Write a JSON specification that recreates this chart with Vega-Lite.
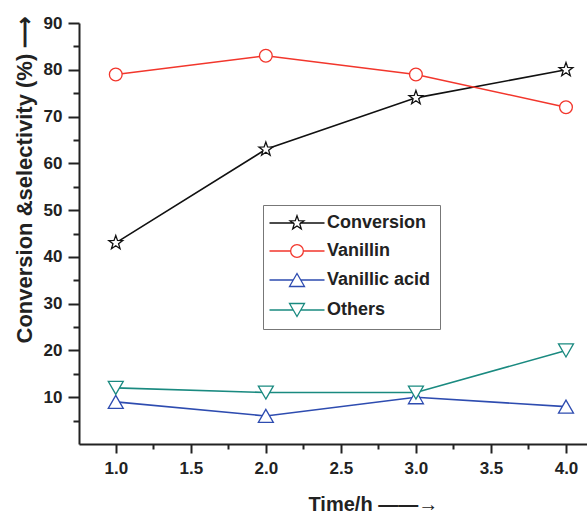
{
  "$schema": "https://vega.github.io/schema/vega-lite/v6.json",
  "width": 508,
  "height": 421,
  "autosize": "none",
  "padding": {"left": 79, "top": 23, "right": 0, "bottom": 69},
  "background": "white",
  "config": {
    "view": {"stroke": null},
    "font": "Liberation Sans",
    "axis": {
      "domainColor": "#222222",
      "domainWidth": 2,
      "tickColor": "#222222",
      "tickWidth": 2,
      "grid": false,
      "labelFont": "Liberation Sans",
      "labelFontWeight": "bold",
      "labelFontSize": 17,
      "labelColor": "#222222",
      "titleFont": "Liberation Sans",
      "titleFontWeight": "bold",
      "titleFontSize": 20,
      "titleColor": "#222222"
    }
  },
  "data": {
    "values": [
      {"time": 1, "value": 43, "series": "Conversion"},
      {"time": 2, "value": 63, "series": "Conversion"},
      {"time": 3, "value": 74, "series": "Conversion"},
      {"time": 4, "value": 80, "series": "Conversion"},
      {"time": 1, "value": 79, "series": "Vanillin"},
      {"time": 2, "value": 83, "series": "Vanillin"},
      {"time": 3, "value": 79, "series": "Vanillin"},
      {"time": 4, "value": 72, "series": "Vanillin"},
      {"time": 1, "value": 9, "series": "Vanillic acid"},
      {"time": 2, "value": 6, "series": "Vanillic acid"},
      {"time": 3, "value": 10, "series": "Vanillic acid"},
      {"time": 4, "value": 8, "series": "Vanillic acid"},
      {"time": 1, "value": 12, "series": "Others"},
      {"time": 2, "value": 11, "series": "Others"},
      {"time": 3, "value": 11, "series": "Others"},
      {"time": 4, "value": 20, "series": "Others"}
    ]
  },
  "encoding": {
    "x": {
      "field": "time",
      "type": "quantitative",
      "scale": {"domain": [0.755, 4.14], "nice": false, "zero": false},
      "axis": {
        "values": [1, 1.25, 1.5, 1.75, 2, 2.25, 2.5, 2.75, 3, 3.25, 3.5, 3.75, 4],
        "labelExpr": "datum.value % 0.5 === 0 ? format(datum.value, '.1f') : ''",
        "tickSize": {"condition": {"test": "datum.value % 0.5 === 0", "value": 9}, "value": 5},
        "labelPadding": 7,
        "title": "Time/h  ——→",
        "titleX": 229,
        "titleY": 66,
        "titleAlign": "left",
        "titleBaseline": "alphabetic",
        "labelFlush": false,
        "labelOverlap": false
      }
    },
    "y": {
      "field": "value",
      "type": "quantitative",
      "scale": {"domain": [0, 90], "nice": false},
      "axis": {
        "values": [5, 10, 15, 20, 25, 30, 35, 40, 45, 50, 55, 60, 65, 70, 75, 80, 85, 90],
        "labelExpr": "datum.value % 10 === 0 ? datum.value : ''",
        "tickSize": {"condition": {"test": "datum.value % 10 === 0", "value": 11}, "value": 6},
        "labelPadding": 6,
        "title": "Conversion &selectivity (%) ⟶",
        "titleFontSize": 22,
        "titleX": -48,
        "titleY": 320,
        "titleAngle": 270,
        "titleAlign": "left",
        "titleBaseline": "alphabetic",
        "labelFlush": false,
        "labelOverlap": false
      }
    },
    "stroke": {
      "field": "series",
      "type": "nominal",
      "scale": {
        "domain": ["Conversion", "Vanillin", "Vanillic acid", "Others"],
        "range": ["#111111", "#f2362c", "#2e4cb0", "#1a8a80"]
      },
      "legend": null
    }
  },
  "resolve": {"scale": {"shape": "independent", "stroke": "independent"}},
  "layer": [
    {
      "mark": {"type": "line", "strokeWidth": 1.6},
      "encoding": {"detail": {"field": "series"}}
    },
    {
      "mark": {"type": "point", "filled": true, "fill": "white", "fillOpacity": 1, "opacity": 1, "strokeWidth": 1.3, "size": 196},
      "encoding": {
        "shape": {
          "field": "series",
          "type": "nominal",
          "scale": {
            "domain": ["Conversion", "Vanillin", "Vanillic acid", "Others"],
            "range": [
              "M0,-1.04L0.247,-0.34L0.989,-0.321L0.399,0.13L0.611,0.841L0,0.42L-0.611,0.841L-0.399,0.13L-0.989,-0.321L-0.247,-0.34Z",
              "M0.91,0A0.91,0.91,0,1,1,-0.91,0A0.91,0.91,0,1,1,0.91,0Z",
              "M0,-0.93L1.07,0.93L-1.07,0.93Z",
              "M0,0.93L1.07,-0.93L-1.07,-0.93Z"
            ]
          },
          "legend": null
        }
      }
    },
    {
      "mark": {"type": "point", "opacity": 0, "size": 196, "strokeWidth": 1.3, "filled": false},
      "encoding": {
        "stroke": {
          "field": "series",
          "type": "nominal",
          "scale": {
            "domain": ["Conversion", "Vanillin", "Vanillic acid", "Others"],
            "range": ["#111111", "#f2362c", "#2e4cb0", "#1a8a80"]
          },
          "legend": {
            "title": null,
            "orient": "none",
            "legendX": 184,
            "legendY": 182,
            "padding": 9,
            "strokeColor": "#777777",
            "fillColor": "white",
            "symbolSize": 196,
            "symbolOffset": 16,
            "symbolOpacity": 1,
            "symbolFillColor": "white",
            "symbolStrokeWidth": 1.3,
            "labelOffset": 21,
            "labelFont": "Liberation Sans",
            "labelFontWeight": "bold",
            "labelFontSize": 18,
            "labelColor": "#222222",
            "rowPadding": 10
          }
        },
        "shape": {
          "field": "series",
          "type": "nominal",
          "scale": {
            "domain": ["Conversion", "Vanillin", "Vanillic acid", "Others"],
            "range": [
              "M0,-1.04L0.247,-0.34L0.989,-0.321L0.399,0.13L0.611,0.841L0,0.42L-0.611,0.841L-0.399,0.13L-0.989,-0.321L-0.247,-0.34ZM-3.93,0L-0.42,0M0.42,0L3.93,0",
              "M0.91,0A0.91,0.91,0,1,1,-0.91,0A0.91,0.91,0,1,1,0.91,0ZM-3.93,0L-0.91,0M0.91,0L3.93,0",
              "M0,-0.93L1.07,0.93L-1.07,0.93ZM-3.93,0L-0.535,0M0.535,0L3.93,0",
              "M0,0.93L1.07,-0.93L-1.07,-0.93ZM-3.93,0L-0.535,0M0.535,0L3.93,0"
            ]
          },
          "legend": {
            "title": null,
            "orient": "none",
            "legendX": 184,
            "legendY": 182,
            "padding": 9,
            "strokeColor": "#777777",
            "fillColor": "white",
            "symbolSize": 196,
            "symbolOffset": 16,
            "symbolOpacity": 1,
            "symbolFillColor": "white",
            "symbolStrokeWidth": 1.3,
            "labelOffset": 21,
            "labelFont": "Liberation Sans",
            "labelFontWeight": "bold",
            "labelFontSize": 18,
            "labelColor": "#222222",
            "rowPadding": 10
          }
        }
      }
    }
  ]
}
